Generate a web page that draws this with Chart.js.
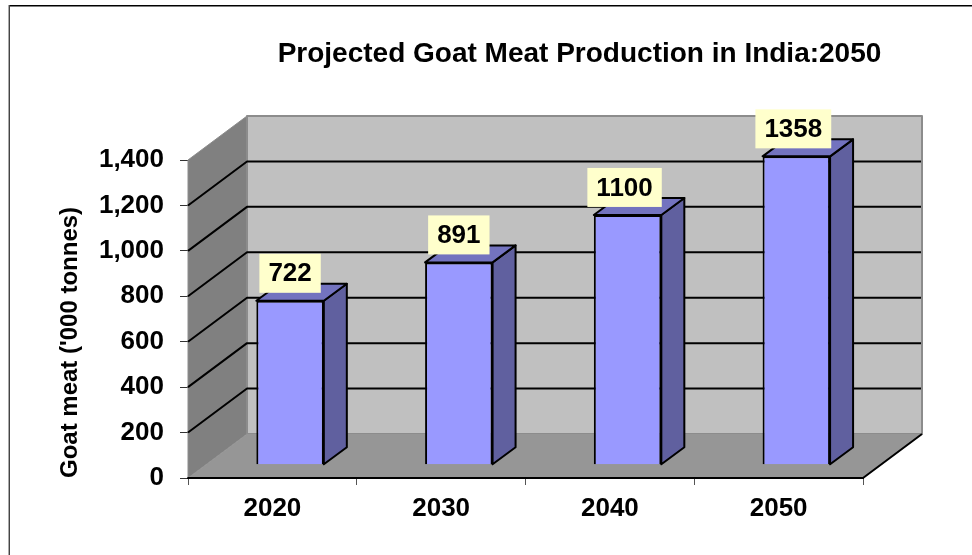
<!DOCTYPE html>
<html>
<head>
<meta charset="utf-8">
<style>
html, body { margin: 0; padding: 0; background: #fff; }
canvas { display: block; }
</style>
<script src="https://cdn.jsdelivr.net/npm/chart.js@4"></script>
</head>
<body>
<canvas id="bar" width="972" height="555"></canvas>
<script>
var years = ["2020", "2030", "2040", "2050"];
var meat = [722, 891, 1100, 1358];
var yTicks = [0, 200, 400, 600, 800, 1000, 1200, 1400];
var chartTitle = "Projected Goat Meat Production in India:2050";
var yTitle = "Goat meat ('000 tonnes)";

// depth of the fake 3d box, in pixels
var depthX = 59, depthY = -44;
// bars sit part way into the box
var barShiftX = 17.7, barShiftY = -13.2;
var barDepthX = 23, barDepthY = -17;

function poly(ctx, pts, fill, stroke, lw) {
	ctx.beginPath();
	pts.forEach(function (p, i) {
		if (i) ctx.lineTo(p[0], p[1]); else ctx.moveTo(p[0], p[1]);
	});
	ctx.closePath();
	ctx.fillStyle = fill;
	ctx.fill();
	if (stroke) {
		ctx.strokeStyle = stroke;
		ctx.lineWidth = lw;
		ctx.lineJoin = "round";
		ctx.stroke();
	}
}

var frame = {
	id: "frame",
	beforeDraw: function (chart) {
		var c = chart.ctx;
		c.save();
		c.fillStyle = "#fff";
		c.fillRect(0, 0, chart.width, chart.height);
		// only the top and left of the picture frame are in view
		c.fillStyle = "#000";
		c.fillRect(9, 5, 963, 1.5);
		c.fillStyle = "#444";
		c.fillRect(9, 5, 1, 550);
		c.fillStyle = "#aaa";
		c.fillRect(8, 5, 1, 550);
		c.fillStyle = "#000";
		c.font = "bold 28px 'Liberation Sans'";
		c.textAlign = "center";
		c.textBaseline = "middle";
		c.fillText(chartTitle, 579.5, 54);
		c.restore();
	}
};

var walls = {
	id: "walls",
	beforeDatasetsDraw: function (chart) {
		var c = chart.ctx, a = chart.chartArea, y = chart.scales.y;
		var l = a.left, r = a.right, t = y.getPixelForValue(1400), b = y.getPixelForValue(0);
		c.save();
		// side wall, back wall, floor
		poly(c, [[l, t], [l + depthX, t + depthY], [l + depthX, b + depthY], [l, b]], "#808080", "#8c8c8c", 1);
		poly(c, [[l + depthX, t + depthY], [r + depthX, t + depthY], [r + depthX, b + depthY], [l + depthX, b + depthY]], "#c0c0c0", "#8c8c8c", 2);
		poly(c, [[l, b], [l + depthX, b + depthY], [r + depthX, b + depthY], [r, b]], "#969696", null, 0);
		// gridlines run along the side wall then across the back
		c.strokeStyle = "#000";
		c.lineWidth = 2;
		yTicks.forEach(function (v) {
			if (v === 0 || v === 1400) return;
			var p = y.getPixelForValue(v);
			c.beginPath();
			c.moveTo(l, p);
			c.lineTo(l + depthX, p + depthY);
			c.lineTo(r + depthX - 1, p + depthY);
			c.stroke();
		});
		// floor edges
		c.lineWidth = 2;
		c.beginPath();
		c.moveTo(l, b);
		c.lineTo(r, b);
		c.lineTo(r + depthX, b + depthY);
		c.stroke();

		// side and top of each bar, behind the native front face
		var meta = chart.getDatasetMeta(0);
		meta.data.forEach(function (bar) {
			var x0 = bar.x - bar.width / 2 + barShiftX, x1 = bar.x + bar.width / 2 + barShiftX;
			var top = bar.y + barShiftY, base = bar.base + barShiftY;
			poly(c, [[x1, top], [x1 + barDepthX, top + barDepthY], [x1 + barDepthX, base + barDepthY], [x1, base]], "#60609f", "#000", 2);
			poly(c, [[x0, top], [x0 + barDepthX, top + barDepthY], [x1 + barDepthX, top + barDepthY], [x1, top]], "#7373bf", "#000", 2);
		});
		c.restore();
		// native bars get pushed into the box
		c.save();
		c.translate(barShiftX, barShiftY);
	},
	afterDatasetsDraw: function (chart) {
		var c = chart.ctx;
		c.restore();
		// value labels on yellow boxes
		var meta = chart.getDatasetMeta(0);
		c.save();
		c.font = "bold 26px 'Liberation Sans'";
		c.textAlign = "center";
		c.textBaseline = "middle";
		meta.data.forEach(function (bar, i) {
			var txt = String(meat[i]);
			var w = c.measureText(txt).width + 18;
			var cx = bar.x + barShiftX - (txt.length - 3) * 3;
			var cy = bar.y + barShiftY - 27.5;
			c.fillStyle = "#ffffcc";
			c.fillRect(cx - w / 2, cy - 19.5, w, 39);
			c.fillStyle = "#000";
			c.fillText(txt, cx, cy + 1);
		});
		c.restore();
	}
};

new Chart(document.getElementById("bar"), {
	type: "bar",
	data: {
		labels: years,
		datasets: [{
			data: meat,
			backgroundColor: "#9999ff",
			borderColor: "#000",
			borderWidth: 2,
			barPercentage: 0.4,
			categoryPercentage: 1,
			clip: false
		}]
	},
	plugins: [frame, walls],
	options: {
		responsive: false,
		animation: false,
		devicePixelRatio: 1,
		layout: { padding: { left: 56, right: 109, top: 160, bottom: 0 } },
		plugins: {
			legend: { display: false },
			tooltip: { enabled: false },
			title: { display: false }
		},
		scales: {
			x: {
				afterFit: function (s) { s.height = 77; },
				grid: { drawOnChartArea: false, color: "#555", tickLength: 7 },
				border: { color: "#000", width: 2 },
				ticks: { color: "#000", padding: 8, maxRotation: 0, autoSkip: false, font: { family: "'Liberation Sans'", size: 26, weight: "bold" } }
			},
			y: {
				min: 0,
				max: 1400,
				afterFit: function (s) { s.width = 132; },
				afterBuildTicks: function (s) {
					s.ticks = yTicks.map(function (v) { return { value: v }; });
				},
				grid: { drawOnChartArea: false, color: "#333", tickLength: 8 },
				border: { color: "#000", width: 1 },
				ticks: { color: "#000", padding: 16, autoSkip: false, font: { family: "'Liberation Sans'", size: 26, weight: "bold" } },
				title: {
					display: true,
					text: yTitle,
					align: "start",
					color: "#000",
					padding: 0,
					font: { family: "'Liberation Sans'", size: 24, weight: "bold" }
				}
			}
		}
	}
});
</script>
</body>
</html>
